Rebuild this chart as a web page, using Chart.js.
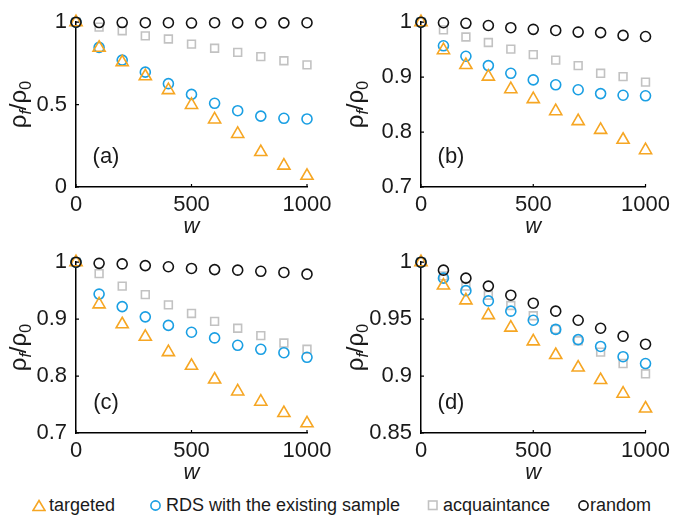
<!DOCTYPE html>
<html lang="en">
<head>
<meta charset="UTF-8" />
<title>rho_f / rho_0 vs w</title>
<script src="https://cdn.jsdelivr.net/npm/chart.js"></script>
<style>
  html, body { margin: 0; padding: 0; background: #fff; }
  body { width: 675px; height: 519px; position: relative; overflow: hidden; font-family: "Liberation Sans", Arial, sans-serif; }
  .panel { position: absolute; }
  #legend { position: absolute; left: 0; top: 493px; width: 675px; height: 24px; }
  .item { position: absolute; top: 0; font-size: 18px; color: #1a1a1a; line-height: 24px; white-space: nowrap; }
  .item svg { position: absolute; top: 6px; }
</style>
</head>
<body>

<div class="panel" style="left:0;top:0;width:337px;height:240px"><canvas id="pa"></canvas></div>
<div class="panel" style="left:337px;top:0;width:338px;height:240px"><canvas id="pb"></canvas></div>
<div class="panel" style="left:0;top:240px;width:337px;height:246px"><canvas id="pc"></canvas></div>
<div class="panel" style="left:337px;top:240px;width:338px;height:246px"><canvas id="pd"></canvas></div>
<div id="legend"></div>

<script>
  // w values shared by all panels
  const wValues = [0, 100, 200, 300, 400, 500, 600, 700, 800, 900, 1000];
  const xTicks = [0, 500, 1000];

  const seriesNames = ["targeted", "RDS with the existing sample", "acquaintance", "random"];

  // (a)
  const targetedA = [1, 0.845, 0.757, 0.672, 0.588, 0.498, 0.41, 0.322, 0.212, 0.13, 0.068];
  const rdsA      = [1, 0.847, 0.770, 0.697, 0.627, 0.562, 0.508, 0.463, 0.43, 0.417, 0.413];
  const acqA      = [1, 0.97, 0.948, 0.917, 0.898, 0.867, 0.842, 0.817, 0.791, 0.766, 0.741];
  const randA     = [1, 0.998, 0.998, 0.997, 0.997, 0.995, 0.997, 0.996, 0.996, 0.996, 0.997];
  const yTicksA   = [0, 0.5, 1];

  // (b)
  const targetedB = [1, 0.949, 0.922, 0.901, 0.878, 0.860, 0.838, 0.820, 0.804, 0.786, 0.767];
  const rdsB      = [1, 0.957, 0.938, 0.921, 0.907, 0.895, 0.886, 0.877, 0.870, 0.867, 0.866];
  const acqB      = [1, 0.986, 0.973, 0.963, 0.951, 0.941, 0.931, 0.921, 0.907, 0.901, 0.891];
  const randB     = [1, 0.999, 0.998, 0.994, 0.990, 0.987, 0.985, 0.982, 0.981, 0.976, 0.974];
  const yTicksB   = [0.7, 0.8, 0.9, 1];

  // (c)
  const targetedC = [1, 0.926, 0.891, 0.869, 0.842, 0.818, 0.794, 0.773, 0.755, 0.735, 0.717];
  const rdsC      = [1, 0.944, 0.922, 0.904, 0.889, 0.877, 0.867, 0.854, 0.847, 0.841, 0.833];
  const acqC      = [1, 0.980, 0.958, 0.943, 0.925, 0.910, 0.896, 0.884, 0.871, 0.858, 0.847];
  const randC     = [1, 0.998, 0.997, 0.994, 0.992, 0.989, 0.987, 0.986, 0.984, 0.982, 0.979];
  const yTicksC   = [0.7, 0.8, 0.9, 1];

  // (d)
  const targetedD = [1, 0.9795, 0.9665, 0.9535, 0.9425, 0.9305, 0.9185, 0.9075, 0.8965, 0.8845, 0.8715];
  const rdsD      = [1, 0.986, 0.975, 0.966, 0.957, 0.949, 0.941, 0.932, 0.926, 0.917, 0.911];
  const acqD      = [1, 0.988, 0.979, 0.971, 0.962, 0.953, 0.941, 0.931, 0.921, 0.911, 0.902];
  const randD     = [1, 0.993, 0.986, 0.979, 0.971, 0.964, 0.957, 0.949, 0.942, 0.935, 0.928];
  const yTicksD   = [0.85, 0.9, 0.95, 1];

  const ORANGE = "#f6a623";
  const BLUE = "#1a9fe3";
  const GRAY = "#c2c2c2";
  const BLACK = "#141414";
  const TEXT = "#1a1a1a";
  const FONT = "'Liberation Sans', Arial";

  const styles = [
    { color: ORANGE, pointStyle: "triangle", radius: 7, order: 1 },
    { color: BLUE, pointStyle: "circle", radius: 5, order: 2 },
    { color: GRAY, pointStyle: "rect", radius: 5.5, order: 3 },
    { color: BLACK, pointStyle: "circle", radius: 5, order: 0 }
  ];

  const toPoints = ys => ys.map((y, i) => ({ x: wValues[i], y: y }));

  // small inward tick marks, y axis title rho_f / rho_0 with subscripts, panel letter
  const decor = {
    id: "decor",
    beforeDatasetsDraw(chart) {
      const ctx = chart.ctx;
      const a = chart.chartArea;
      const xs = chart.scales.x, ys = chart.scales.y;
      ctx.save();
      ctx.strokeStyle = "#000";
      ctx.lineWidth = 1.2;
      ctx.beginPath();
      xs.ticks.forEach(t => {
        const px = xs.getPixelForValue(t.value);
        ctx.moveTo(px, a.bottom);
        ctx.lineTo(px, a.bottom - 3);
      });
      ys.ticks.forEach(t => {
        const py = ys.getPixelForValue(t.value);
        ctx.moveTo(a.left, py);
        ctx.lineTo(a.left + 3, py);
      });
      ctx.stroke();
      ctx.restore();
    },
    afterDraw(chart, args, opts) {
      const ctx = chart.ctx;
      const a = chart.chartArea;
      ctx.save();
      ctx.fillStyle = TEXT;
      ctx.font = "22px " + FONT;
      ctx.textAlign = "center";
      ctx.textBaseline = "middle";
      ctx.fillText(opts.letter, a.left + 30, a.bottom - 30);

      const parts = [
        { t: "\u03c1", f: "24px " + FONT, dy: 0 },
        { t: "f", f: "italic 16px " + FONT, dy: 5 },
        { t: "/", f: "24px " + FONT, dy: 0 },
        { t: "\u03c1", f: "24px " + FONT, dy: 0 },
        { t: "0", f: "16px " + FONT, dy: 5 }
      ];
      let total = 0;
      parts.forEach(p => { ctx.font = p.f; p.w = ctx.measureText(p.t).width; total += p.w; });
      ctx.translate(26, (a.top + a.bottom) / 2);
      ctx.rotate(-Math.PI / 2);
      ctx.textAlign = "left";
      ctx.textBaseline = "alphabetic";
      let x = -total / 2;
      parts.forEach(p => { ctx.font = p.f; ctx.fillText(p.t, x, p.dy); x += p.w; });
      ctx.restore();
    }
  };

  function makePanel(id, letter, series, yTicks, pad, yWidth, xHeight) {
    new Chart(document.getElementById(id), {
      type: "scatter",
      data: {
        datasets: series.map((ys, k) => ({
          label: seriesNames[k],
          data: toPoints(ys),
          pointStyle: styles[k].pointStyle,
          pointRadius: styles[k].radius,
          pointHoverRadius: styles[k].radius,
          pointBorderColor: styles[k].color,
          pointBackgroundColor: "rgba(0,0,0,0)",
          pointBorderWidth: 1.6,
          showLine: false,
          clip: false,
          order: styles[k].order
        }))
      },
      options: {
        responsive: true,
        maintainAspectRatio: false,
        animation: false,
        layout: { padding: pad },
        plugins: {
          legend: { display: false },
          tooltip: { enabled: false },
          decor: { letter: letter }
        },
        scales: {
          x: {
            type: "linear",
            min: 0,
            max: 1000,
            afterBuildTicks: s => { s.ticks = xTicks.map(v => ({ value: v })); },
            afterFit: s => { s.height = xHeight; },
            grid: { display: false, drawTicks: false },
            border: { color: "#000", width: 1.5 },
            ticks: { color: TEXT, font: { size: 22, family: FONT }, padding: 5, maxRotation: 0, callback: v => String(v) },
            title: {
              display: true,
              text: "w",
              color: TEXT,
              font: { size: 22, style: "italic", family: FONT },
              padding: { top: 0, bottom: 0 }
            }
          },
          y: {
            type: "linear",
            min: yTicks[0],
            max: yTicks[yTicks.length - 1],
            afterBuildTicks: s => { s.ticks = yTicks.map(v => ({ value: v })); },
            afterFit: s => { s.width = yWidth; },
            grid: { display: false, drawTicks: false },
            border: { color: "#000", width: 1.5 },
            ticks: { color: TEXT, font: { size: 22, family: FONT }, padding: 9, callback: v => String(v) }
          }
        }
      },
      plugins: [decor]
    });
  }

  makePanel("pa", "(a)", [targetedA, rdsA, acqA, randA], yTicksA, { top: 15, right: 30, left: 0, bottom: 0 }, 76, 53);
  makePanel("pb", "(b)", [targetedB, rdsB, acqB, randB], yTicksB, { top: 13, right: 24, left: 0, bottom: 0 }, 84, 53);
  makePanel("pc", "(c)", [targetedC, rdsC, acqC, randC], yTicksC, { top: 17, right: 30, left: 0, bottom: 0 }, 76, 53);
  makePanel("pd", "(d)", [targetedD, rdsD, acqD, randD], yTicksD, { top: 17, right: 24, left: 0, bottom: 0 }, 84, 53);

  // shared legend along the bottom
  const legendX = [32, 149, 426, 577];
  const marker = k => {
    const c = styles[k].color;
    if (k === 0) return `<svg width="14" height="13"><polygon points="7,1.5 13,11.5 1,11.5" fill="none" stroke="${c}" stroke-width="1.6"/></svg>`;
    if (k === 2) return `<svg width="14" height="13"><rect x="2.5" y="2" width="8.5" height="8.5" fill="none" stroke="${c}" stroke-width="1.6"/></svg>`;
    return `<svg width="14" height="13"><circle cx="6.5" cy="6.5" r="4.6" fill="none" stroke="${c}" stroke-width="1.6"/></svg>`;
  };
  const legend = document.getElementById("legend");
  legend.innerHTML = seriesNames.map((name, k) =>
    `<div class="item" style="left:${legendX[k]}px">${marker(k)}<span style="margin-left:${k === 3 ? 13 : 17}px">${name}</span></div>`
  ).join("");
</script>
</body>
</html>
